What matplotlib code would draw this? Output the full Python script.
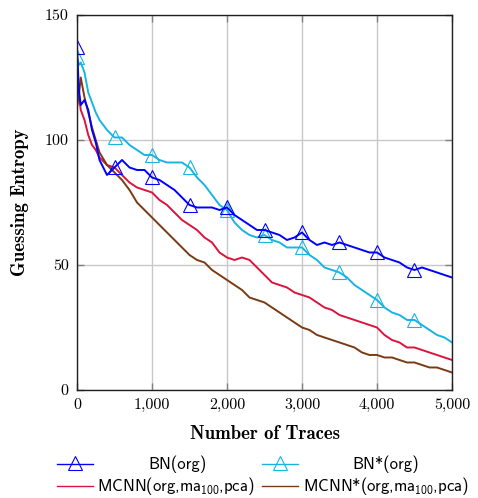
import matplotlib
matplotlib.use("Agg")
import matplotlib.pyplot as plt
from matplotlib.lines import Line2D
from matplotlib.ticker import FuncFormatter

plt.rcParams['mathtext.fontset'] = 'custom'
plt.rcParams['mathtext.rm'] = 'cmss10'
plt.rcParams['axes.formatter.use_mathtext'] = True

# number of traces
traces = [0, 25, 50, 100, 150, 200, 250, 300, 400, 500,
          600, 700, 800, 900, 1000, 1100, 1200, 1300, 1400, 1500,
          1600, 1700, 1800, 1900, 2000, 2100, 2200, 2300, 2400, 2500,
          2600, 2700, 2800, 2900, 3000, 3100, 3200, 3300, 3400, 3500,
          3600, 3700, 3800, 3900, 4000, 4100, 4200, 4300, 4400, 4500,
          4600, 4700, 4800, 4900, 5000]

ge_bn = [137, 120, 114, 116, 112, 104, 99, 92, 86, 89,
         92, 89, 88, 88, 85, 84, 82, 80, 77, 74,
         73, 73, 73, 72, 73, 70, 68, 66, 64, 64,
         63, 62, 60, 61, 63, 60, 58, 59, 58, 59,
         58, 57, 56, 55, 55, 53, 52, 51, 49, 48,
         49, 48, 47, 46, 45]

ge_bn_star = [133, 130, 131, 127, 119, 115, 111, 108, 104, 101,
              101, 98, 96, 94, 94, 92, 91, 91, 91, 89,
              85, 82, 78, 74, 72, 67, 64, 62, 61, 62,
              60, 59, 57, 57, 57, 54, 52, 49, 48, 47,
              45, 42, 40, 38, 36, 33, 31, 30, 28, 28,
              26, 24, 22, 21, 19]

ge_mcnn = [125, 118, 112, 108, 102, 98, 96, 93, 90, 89,
           86, 83, 81, 80, 79, 76, 74, 71, 68, 66,
           64, 61, 59, 55, 53, 52, 53, 52, 49, 46,
           43, 42, 41, 39, 38, 37, 35, 33, 32, 30,
           29, 28, 27, 26, 25, 22, 20, 19, 17, 17,
           16, 15, 14, 13, 12]

ge_mcnn_star = [113, 118, 125, 117, 111, 105, 100, 95, 90, 87,
                84, 80, 75, 72, 69, 66, 63, 60, 57, 54,
                52, 51, 48, 46, 44, 42, 40, 37, 36, 35,
                33, 31, 29, 27, 25, 24, 22, 21, 20, 19,
                18, 17, 15, 14, 14, 13, 13, 12, 11, 11,
                10, 9, 9, 8, 7]

c_bn = '#0000ff'
c_bn_star = '#18b4e4'
c_mcnn = '#dc143c'
c_mcnn_star = '#7a3b14'

# triangles every 500 traces, last one at 4500
marks = [i for i, n in enumerate(traces) if n % 500 == 0 and n < 5000]

fig = plt.figure(figsize=(4.78, 4.98), dpi=100)
ax = fig.add_axes([0.1611, 0.2169, 0.7845, 0.753])

ax.plot(traces, ge_mcnn, color=c_mcnn, lw=1.4)
ax.plot(traces, ge_mcnn_star, color=c_mcnn_star, lw=1.4)
ax.plot(traces, ge_bn_star, color=c_bn_star, lw=1.4, marker='^', ms=10,
        mfc='none', mew=0.8, markevery=marks)
ax.plot(traces, ge_bn, color=c_bn, lw=1.4, marker='^', ms=10,
        mfc='none', mew=0.8, markevery=marks)

ax.set_xlim(0, 5000)
ax.set_ylim(0, 150)
ax.set_xticks([0, 1000, 2000, 3000, 4000, 5000])
ax.set_yticks([0, 50, 100, 150])
ax.xaxis.set_major_formatter(FuncFormatter(lambda v, p: f'{int(v):,}'))
ax.yaxis.set_major_formatter(FuncFormatter(lambda v, p: f'{int(v)}'))
ax.grid(True, color='#c8c8c8', lw=1.0)
ax.set_axisbelow(True)
ax.tick_params(direction='in', length=5, width=1.0, color='#808080',
               top=True, right=True, labelsize=11.5, pad=6)
for lab in ax.get_xticklabels() + ax.get_yticklabels():
    lab.set_fontfamily('cmr10')
for s in ax.spines.values():
    s.set_linewidth(1.0)
    s.set_color('#202020')

ax.set_xlabel('Number of Traces', fontfamily='cmb10', fontsize=13.5, labelpad=9)
ax.set_ylabel('Guessing Entropy', fontfamily='cmb10', fontsize=13.5, labelpad=11)

# legend drawn below the axes, two centred columns
entries = [
    (c_bn, '^', 'BN(org)', 57, 177, 464),
    (c_bn_star, '^', 'BN*(org)', 262, 386, 464),
    (c_mcnn, None, r'MCNN(org,ma$_{100}$,pca)', 57, 176, 486),
    (c_mcnn_star, None, r'MCNN*(org,ma$_{100}$,pca)', 262, 386, 486),
]
W, H = 478.0, 498.0
for color, mk, label, hx, tx, ty in entries:
    yy = 1 - ty / H
    fig.add_artist(Line2D([hx / W, (hx + 36) / W], [yy, yy], color=color, lw=1.0,
                          transform=fig.transFigure))
    if mk:
        fig.add_artist(Line2D([(hx + 18) / W], [yy + 1.5 / H], color=color, marker=mk,
                              ms=10, mfc='none', mew=0.8, transform=fig.transFigure))
    fig.text(tx / W, yy, label, ha='center', va='center', fontfamily='cmss10',
             fontsize=12)

fig.savefig('out.png', dpi=100)
